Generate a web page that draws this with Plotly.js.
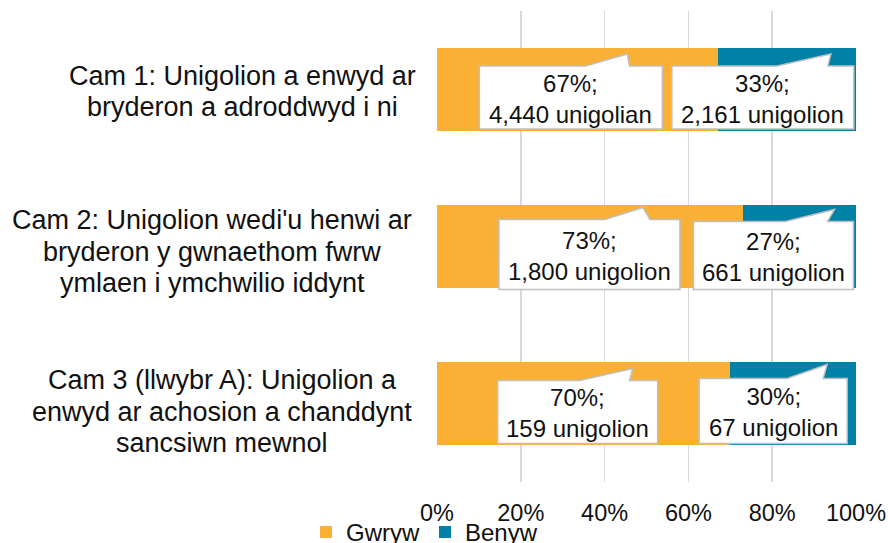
<!DOCTYPE html>
<html><head><meta charset="utf-8">
<script src="https://cdn.plot.ly/plotly-3.0.1.min.js"></script>
<style>html,body{margin:0;padding:0;background:#fff}#chart{width:888px;height:543px}</style>
</head><body><div id="chart"></div>
<script>
// ---- data ----
const categories = [
  'Cam 1: Unigolion a enwyd ar<br>bryderon a adroddwyd i ni',
  'Cam 2: Unigolion wedi\'u henwi ar<br>bryderon y gwnaethom fwrw<br>ymlaen i ymchwilio iddynt',
  'Cam 3 (llwybr A): Unigolion a<br>enwyd ar achosion a chanddynt<br>sancsiwn mewnol'
];
const seriesNames = ['Gwryw', 'Benyw'];
const gwrywPct = [67, 73, 70];
const benywPct = [33, 27, 30];
const gwrywCount = ['4,440 unigolian', '1,800 unigolion', '159 unigolion'];
const benywCount = ['2,161 unigolion', '661 unigolion', '67 unigolion'];
const xTicks = [0, 20, 40, 60, 80, 100];

// ---- style ----
const ORANGE = '#FAB034', TEAL = '#0081A7';
const FONT = 'Liberation Sans, Arial, sans-serif';
const TXT = '#111111';
// callout geometry in pixels relative to the centre of its bar segment (y up)
const calloutGeom = {
  Gwryw: [
    {l:-98, r:85, t:23.5, b:-39.5, ws:8,  tx:50, ty:35.5, we:52},
    {l:-91, r:90, t:27,   b:-43,   ws:15, tx:53, ty:39,   we:60},
    {l:-86, r:74, t:23,   b:-40,   ws:-4, tx:49, ty:35,   we:46}
  ],
  Benyw: [
    {l:-115, r:67, t:23.5, b:-39.5, ws:-10, tx:44, ty:35.5, we:41},
    {l:-106, r:54, t:25,   b:-43,   ws:-14, tx:35, ty:37,   we:28},
    {l:-94,  r:54, t:25,   b:-40,   ws:-6,  tx:34, ty:39,   we:30}
  ]
};
const labelCenterPx = [242, 212, 222];   // category label centre (absolute px)
const labelShift = [2, 5, 8];            // downward shift of label block
const LINE = 31.5;

const traces = [
  {type:'bar', orientation:'h', name:seriesNames[0], y:categories, x:gwrywPct,
   marker:{color:ORANGE}, hoverinfo:'skip'},
  {type:'bar', orientation:'h', name:seriesNames[1], y:categories, x:benywPct,
   marker:{color:TEAL}, hoverinfo:'skip'}
];

const shapes = [], annotations = [];
function addCallout(geom, anchorX, cat, pct, countTxt) {
  const g = geom;
  shapes.push({
    type:'path', xref:'x', yref:'y', xsizemode:'pixel', ysizemode:'pixel',
    xanchor:anchorX, yanchor:cat,
    path:`M${g.l},${g.t} L${g.ws},${g.t} L${g.tx},${g.ty} L${g.we},${g.t} L${g.r},${g.t} L${g.r},${g.b} L${g.l},${g.b} Z`,
    fillcolor:'#ffffff', line:{color:'#BFBFBF', width:1.5}, layer:'above'
  });
  annotations.push({
    xref:'x', yref:'y', x:anchorX, y:cat, xanchor:'center', yanchor:'middle',
    xshift:(g.l + g.r) / 2, yshift:(g.t + g.b) / 2 - 1,
    text:`${pct}%;<br>${countTxt}`, showarrow:false, align:'center',
    font:{family:FONT, size:24, color:TXT}
  });
}
categories.forEach((cat, i) => {
  addCallout(calloutGeom.Gwryw[i], gwrywPct[i] / 2, cat, gwrywPct[i], gwrywCount[i]);
  addCallout(calloutGeom.Benyw[i], gwrywPct[i] + benywPct[i] / 2, cat, benywPct[i], benywCount[i]);
  const lines = cat.split('<br>');
  const n = lines.length;
  lines.forEach((ln, j) => {
    annotations.push({
      xref:'paper', yref:'y', x:0, y:cat, xanchor:'center', yanchor:'middle',
      xshift:labelCenterPx[i] - 437,
      yshift:-(labelShift[i] + (j - (n - 1) / 2) * LINE),
      text:ln, showarrow:false, font:{family:FONT, size:27, color:TXT}
    });
  });
});

const layout = {
  width:888, height:543,
  margin:{l:437, r:32, t:11, b:61, autoexpand:false},
  paper_bgcolor:'#ffffff', plot_bgcolor:'#ffffff',
  barmode:'stack', bargap:0.471,
  font:{family:FONT, color:TXT},
  xaxis:{range:[0,100], tickvals:xTicks, ticktext:xTicks.map(v => v + '%'),
         showgrid:true, gridcolor:'#D9D9D9', gridwidth:1.5, zeroline:false,
         showline:false, ticks:'', ticklabelstandoff:14,
         tickfont:{family:FONT, size:23.5, color:TXT}, fixedrange:true},
  yaxis:{type:'category', range:[2.5,-0.5], showticklabels:false, showgrid:false,
         zeroline:false, showline:false, ticks:'', fixedrange:true},
  showlegend:true,
  legend:{orientation:'h', traceorder:'normal', xref:'container', x:306/888, xanchor:'left',
          yref:'paper', y:-0.107, yanchor:'middle', font:{family:FONT, size:24, color:TXT},
          bgcolor:'rgba(0,0,0,0)', borderwidth:0},
  shapes:shapes, annotations:annotations
};
Plotly.newPlot('chart', traces, layout, {staticPlot:true, displayModeBar:false});
</script>
</body></html>
